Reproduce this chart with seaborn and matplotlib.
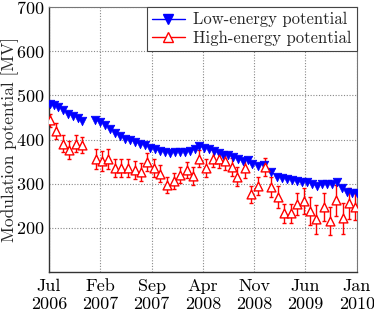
import matplotlib
matplotlib.use("Agg")
import matplotlib.pyplot as plt
import seaborn as sns
import pandas as pd
from matplotlib.lines import Line2D
from matplotlib.ticker import MultipleLocator, FixedLocator

# x values: months since 1 July 2006
low_month = [0.14, 0.73, 1.27, 1.96, 2.64, 3.32, 3.93, 4.56,
             6.29, 6.98, 7.66, 8.34, 9.03, 9.71, 10.40, 11.08, 11.76, 12.45,
             13.13, 13.82, 14.50, 15.18, 15.87, 16.55, 17.24, 17.92, 18.60,
             19.29, 19.97, 20.42, 21.11, 21.79, 22.48, 23.16, 23.80, 24.49,
             25.17, 25.85, 26.54, 27.09, 27.73, 28.55, 29.32, 30.23, 31.15,
             31.83, 32.52, 33.20, 33.89, 34.57, 35.25, 35.94, 36.62, 37.31,
             37.99, 38.67, 39.36, 40.04, 40.73, 41.41, 41.99]
low_phi = [480, 478, 474, 467, 459, 453, 449, 443,
           444, 440, 433, 424, 415, 407, 402, 398, 394, 390,
           388, 382, 378, 375, 372, 370, 372, 371, 372,
           375, 378, 386, 380, 378, 374, 369, 366, 364,
           360, 355, 352, 353, 344, 341, 342, 327, 316,
           312, 311, 308, 306, 305, 303, 299, 295, 299,
           299, 299, 303, 290, 282, 278, 280]

high_month = [0.14, 0.92, 1.87, 2.74, 3.65, 4.47,
              6.39, 7.21, 8.11, 9.03, 9.85, 10.77, 11.67, 12.59, 13.37,
              14.27, 15.18, 16.10, 17.00, 17.92, 18.84, 19.66, 20.52, 21.44,
              22.34, 23.16, 24.08, 24.99, 25.68, 26.81, 27.63, 28.55, 29.45,
              30.33, 31.29, 32.05, 32.97, 33.88, 34.79, 35.61, 36.48, 37.52,
              38.34, 39.12, 40.12, 40.94, 41.77]
high_phi = [444, 420, 391, 376, 391, 387,
            356, 352, 356, 336, 335, 336, 331, 326, 350,
            335, 323, 297, 307, 320, 331, 317, 357, 335,
            357, 355, 352, 338, 316, 335, 276, 295, 338,
            293, 270, 233, 233, 254, 261, 238, 220, 248,
            216, 263, 222, 256, 248]
high_err = [15, 18, 20, 20, 20, 18,
            22, 22, 22, 20, 20, 20, 20, 20, 20,
            20, 20, 18, 18, 18, 18, 20, 20, 20,
            20, 20, 20, 20, 22, 22, 20, 20, 20,
            22, 25, 22, 22, 25, 30, 32, 33, 32,
            32, 35, 35, 35, 30]

tick_months = [0, 7, 14, 21, 28, 35, 42]
tick_labels = ["Jul\n2006", "Feb\n2007", "Sep\n2007", "Apr\n2008",
               "Nov\n2008", "Jun\n2009", "Jan\n2010"]

low_df = pd.DataFrame({"month": low_month, "phi": low_phi})
high_df = pd.DataFrame({"month": high_month, "phi": high_phi, "err": high_err})

sns.set_style("white")
plt.rcParams["font.family"] = ["cmr10", "DejaVu Serif"]
plt.rcParams["axes.formatter.use_mathtext"] = True
plt.rcParams["mathtext.fontset"] = "cm"

fig, ax = plt.subplots(figsize=(3.74, 3.22), dpi=100)
fig.subplots_adjust(left=0.131, right=0.954, top=0.978, bottom=0.155)

ax.errorbar(high_df["month"], high_df["phi"], yerr=high_df["err"], fmt="none",
            ecolor="red", elinewidth=1.0, capsize=1.5, capthick=1.0, zorder=2)
sns.scatterplot(data=low_df, x="month", y="phi", ax=ax, marker="v", s=38,
                color="blue", edgecolor="blue", linewidth=0.5, zorder=3)
sns.scatterplot(data=high_df, x="month", y="phi", ax=ax, marker="^", s=40,
                facecolor="white", edgecolor="red", linewidth=1.0, zorder=4)

ax.set_xlim(0, 42)
ax.set_ylim(100, 700)
ax.xaxis.set_major_locator(FixedLocator(tick_months))
ax.set_xticklabels(tick_labels)
ax.xaxis.set_minor_locator(MultipleLocator(1))
ax.yaxis.set_minor_locator(MultipleLocator(20))
ax.set_yticks([200, 300, 400, 500, 600, 700])
ax.tick_params(axis="both", which="major", direction="in", length=8, width=0.8,
               labelsize=13, colors="#222222", labelcolor="black")
ax.tick_params(axis="both", which="minor", direction="in", length=4, width=0.8,
               colors="#222222")
ax.tick_params(axis="x", pad=5)
ax.tick_params(axis="y", pad=3)
ax.grid(True, which="major", linestyle=(0, (1, 1.5)), color="#888888", linewidth=0.8)
ax.set_axisbelow(True)

ax.set_xlabel("")
ax.set_ylabel("Modulation potential [MV]", fontsize=12.5)
ax.yaxis.set_label_coords(-0.098, 0.5)
for side in ["left", "bottom"]:
    ax.spines[side].set_color("#333333")
    ax.spines[side].set_linewidth(1.0)
for side in ["top", "right"]:
    ax.spines[side].set_color("#777777")
    ax.spines[side].set_linewidth(0.8)

handles = [
    Line2D([0], [0], color="blue", marker="v", markersize=7, linewidth=1.0,
           markerfacecolor="blue", markeredgecolor="blue"),
    Line2D([0], [0], color="red", marker="^", markersize=7, linewidth=1.0,
           markerfacecolor="white", markeredgecolor="red"),
]
leg = ax.legend(handles, ["Low-energy potential", "High-energy potential"],
                loc="upper right", borderaxespad=0, fancybox=False,
                edgecolor="#444444", framealpha=1, fontsize=12,
                handlelength=2.0, handletextpad=0.5, borderpad=0.3,
                labelspacing=0.2)
leg.get_frame().set_linewidth(0.8)

fig.savefig("out.png", dpi=100)
